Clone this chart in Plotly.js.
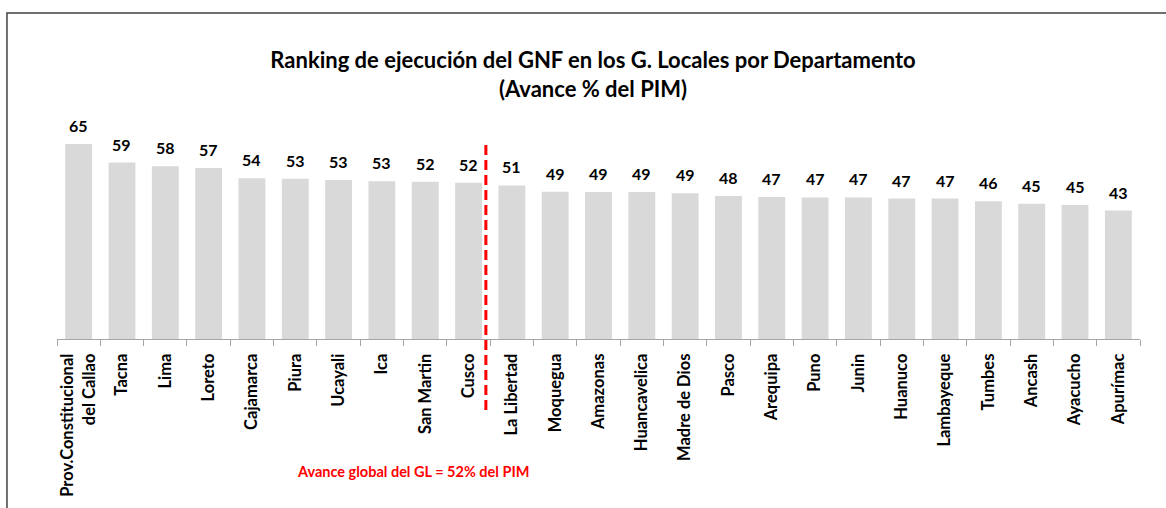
<!DOCTYPE html>
<html>
<head>
<meta charset="utf-8">
<script src="https://cdn.plot.ly/plotly-3.0.1.min.js"></script>
<style>html,body{margin:0;padding:0;background:#fff;}#chart{width:1166px;height:508px;}</style>
</head>
<body>
<div id="chart"></div>
<script>
var departamentos = [
  "Prov.Constitucional<br>del Callao",
  "Tacna", "Lima", "Loreto", "Cajamarca", "Piura", "Ucayali", "Ica", "San Martin", "Cusco",
  "La Libertad", "Moquegua", "Amazonas", "Huancavelica", "Madre de Dios", "Pasco",
  "Arequipa", "Puno", "Junin", "Huanuco", "Lambayeque", "Tumbes", "Ancash", "Ayacucho", "Apurímac"
];
var avance = [
  65.0, 58.8, 57.6, 57.0, 53.6, 53.4, 53.0, 52.6, 52.4, 52.1,
  51.2, 49.1, 49.0, 49.0, 48.6, 47.7, 47.3, 47.2, 47.2, 46.8,
  46.8, 45.9, 45.1, 44.7, 42.8
];
var avanceGlobalTexto = "Avance global del GL = 52% del PIM";
var tituloTexto = "Ranking de ejecución del GNF en los G. Locales por Departamento<br>(Avance % del PIM)";

var fontFam = "Lato, 'Open Sans', sans-serif";

var trace = {
  type: "bar",
  x: departamentos,
  y: avance,
  marker: {color: "#d9d9d9", line: {width: 0}},
  hoverinfo: "x+y"
};

var etiquetas = departamentos.map(function (d, i) {
  return {
    xref: "x", yref: "y",
    x: d, y: avance[i],
    text: String(Math.round(avance[i])),
    showarrow: false,
    xanchor: "center", yanchor: "bottom",
    yshift: 7,
    font: {family: fontFam, size: 16, color: "#000", weight: "bold"}
  };
});

var layout = {
  width: 1166,
  height: 508,
  margin: {l: 57, r: 26, t: 129, b: 169},
  paper_bgcolor: "#fff",
  plot_bgcolor: "#fff",
  showlegend: false,
  bargap: 0.38,
  title: {
    text: tituloTexto,
    font: {family: fontFam, size: 22, color: "#000", weight: "bold"},
    x: 0.5086, xanchor: "center",
    y: 0.866, yanchor: "middle"
  },
  xaxis: {
    type: "category",
    showline: true,
    linecolor: "#a6a6a6",
    linewidth: 1,
    ticks: "outside",
    tickson: "boundaries",
    ticklen: 6,
    tickcolor: "#a6a6a6",
    tickangle: -90,
    ticklabelstandoff: 7,
    tickfont: {family: fontFam, size: 16.5, color: "#000", weight: "bold"},
    showgrid: false,
    zeroline: false,
    fixedrange: true
  },
  yaxis: {
    range: [0, 70],
    visible: false,
    showgrid: false,
    zeroline: false,
    fixedrange: true
  },
  shapes: [
    {
      type: "line", xref: "x", yref: "paper",
      x0: 9.4, x1: 9.4, y0: -0.338, y1: 0.924,
      line: {color: "#ff0000", width: 3, dash: "10px,5px"}
    },
    {
      type: "rect", xref: "paper", yref: "paper",
      x0: -0.0462, x1: 1.1, y0: -1, y1: 1.552,
      line: {color: "#404040", width: 1.5},
      fillcolor: "rgba(0,0,0,0)"
    }
  ],
  annotations: etiquetas.concat([
    {
      xref: "paper", yref: "paper",
      x: 0.329, y: -0.629,
      xanchor: "center", yanchor: "middle",
      text: avanceGlobalTexto,
      showarrow: false,
      font: {family: fontFam, size: 14.5, color: "#ff0000", weight: "bold"}
    }
  ])
};

Plotly.newPlot("chart", [trace], layout, {displayModeBar: false, staticPlot: true});
</script>
</body>
</html>
